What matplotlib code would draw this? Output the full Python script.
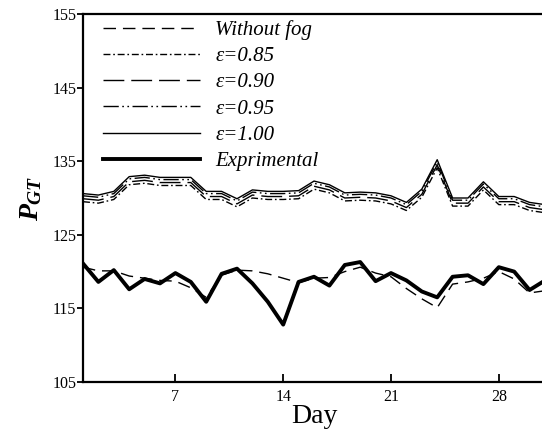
import numpy as np
import matplotlib
matplotlib.use('Agg')
import matplotlib.pyplot as plt

plt.rcParams['font.family'] = ['Liberation Serif', 'DejaVu Serif']
plt.rcParams['mathtext.fontset'] = 'custom'
plt.rcParams['mathtext.it'] = 'Liberation Serif:italic:bold'
plt.rcParams['mathtext.rm'] = 'Liberation Serif:bold'

# Days of the month
days = np.arange(1, 32)

# Power of gas turbine (MW)
without_fog = [120.6, 120.1, 120.1, 119.4, 119.1, 118.8, 118.7, 117.8, 116.5, 119.5,
               120.2, 120.1, 119.7, 119.1, 118.5, 119.1, 119.2, 120.0, 120.6, 119.8,
               119.3, 117.7, 116.3, 115.1, 118.3, 118.6, 119.1, 120.0, 119.0, 117.1, 117.4]
eps_085 = [129.5, 129.3, 129.8, 131.8, 132.0, 131.7, 131.7, 131.7, 129.8, 129.8,
           128.8, 130.0, 129.8, 129.8, 129.9, 131.2, 130.7, 129.6, 129.7, 129.6,
           129.2, 128.3, 130.1, 134.1, 128.9, 128.9, 131.1, 129.1, 129.1, 128.3, 128.0]
eps_090 = [129.9, 129.7, 130.2, 132.2, 132.4, 132.1, 132.1, 132.1, 130.2, 130.2,
           129.2, 130.4, 130.2, 130.2, 130.3, 131.6, 131.1, 130.0, 130.1, 130.0,
           129.6, 128.7, 130.5, 134.5, 129.3, 129.3, 131.5, 129.5, 129.5, 128.7, 128.4]
eps_095 = [130.3, 130.1, 130.6, 132.6, 132.8, 132.5, 132.5, 132.5, 130.6, 130.6,
           129.6, 130.8, 130.6, 130.6, 130.7, 132.0, 131.5, 130.4, 130.5, 130.4,
           130.0, 129.1, 130.9, 134.9, 129.7, 129.7, 131.9, 129.9, 129.9, 129.1, 128.8]
eps_100 = [130.6, 130.4, 130.9, 132.9, 133.1, 132.8, 132.8, 132.8, 130.9, 130.9,
           129.9, 131.1, 130.9, 130.9, 131.0, 132.3, 131.8, 130.7, 130.8, 130.7,
           130.3, 129.4, 131.2, 135.2, 130.0, 130.0, 132.2, 130.2, 130.2, 129.4, 129.1]
experimental = [121.1, 118.6, 120.2, 117.6, 119.0, 118.4, 119.8, 118.6, 115.9, 119.7,
                120.4, 118.4, 115.9, 112.8, 118.6, 119.3, 118.1, 120.9, 121.3, 118.7,
                119.8, 118.8, 117.3, 116.5, 119.3, 119.5, 118.3, 120.6, 120.0, 117.5, 118.8]

fig = plt.figure(figsize=(5.42, 4.29), dpi=100)
ax = fig.add_axes([83 / 542, 1 - 382 / 429, 462 / 542, 368 / 429])

ax.plot(days, without_fog, color='black', lw=1.0, dashes=(9, 5), label='Without fog')
ax.plot(days, eps_085, color='black', lw=1.0, dashes=(5, 2, 1.2, 2), label='ε=0.85')
ax.plot(days, eps_090, color='black', lw=1.0, dashes=(15, 5), label='ε=0.90')
ax.plot(days, eps_095, color='black', lw=1.0, dashes=(11, 2.5, 1.2, 2.5, 1.2, 2.5), label='ε=0.95')
ax.plot(days, eps_100, color='black', lw=1.0, label='ε=1.00')
ax.plot(days, experimental, color='black', lw=2.8, label='Exprimental')

ax.set_xlim(1, 31)
ax.set_ylim(105, 155)
ax.set_xticks([7, 14, 21, 28])
ax.set_yticks([105, 115, 125, 135, 145, 155])

for s in ax.spines.values():
    s.set_linewidth(1.6)
ax.tick_params(axis='x', direction='in', length=6, width=1.3, labelsize=11.5, pad=5)
ax.tick_params(axis='y', direction='out', length=4.3, width=1.3, labelsize=11.5, pad=0.5)

ax.set_xlabel('Day', fontsize=20, labelpad=-1)
ax.set_ylabel('$P_{GT}$', fontsize=20, labelpad=6)

leg = ax.legend(loc='upper left', bbox_to_anchor=(20 / 462, 1 - 6 / 368),
                frameon=False, borderpad=0, borderaxespad=0,
                prop={'style': 'italic', 'size': 15},
                handlelength=4.66, handletextpad=0.72, labelspacing=0.32)

fig.savefig('out.png', dpi=100)
